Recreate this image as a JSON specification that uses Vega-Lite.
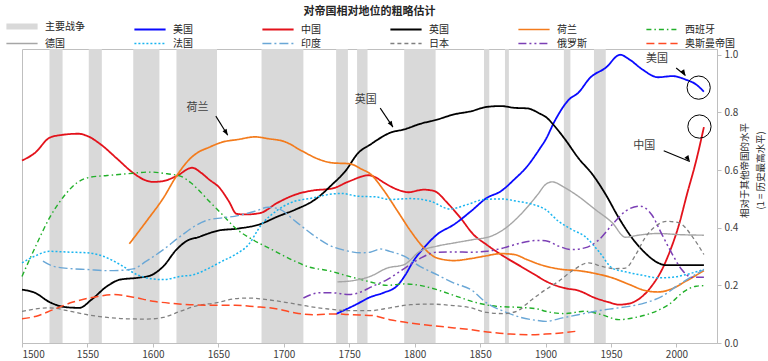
{
  "$schema": "https://vega.github.io/schema/vega-lite/v6.json",
  "width": 695,
  "height": 294,
  "autosize": {"type": "none"},
  "padding": {"left": 22, "top": 49, "right": 51, "bottom": 18},
  "background": "white",
  "title": {"text": "对帝国相对地位的粗略估计", "fontSize": 11, "font": "Noto Sans CJK SC", "fontWeight": "bold", "color": "#262626", "frame": "group", "anchor": "middle", "offset": 3.5},
  "config": {
    "view": {"stroke": "#bfbfbf", "strokeWidth": 1},
    "font": "Noto Sans CJK SC",
    "axis": {"grid": false, "domainColor": "#bfbfbf", "tickColor": "#bfbfbf", "labelColor": "#404040", "labelFontSize": 10, "labelFont": "Noto Sans CJK SC", "tickSize": 4}
  },
  "datasets": {
    "wars": [
      {"year": 1521, "year2": 1531}, {"year": 1551, "year2": 1561}, {"year": 1585, "year2": 1605},
      {"year": 1618, "year2": 1649}, {"year": 1683, "year2": 1715}, {"year": 1740, "year2": 1749},
      {"year": 1756, "year2": 1764}, {"year": 1792, "year2": 1816}, {"year": 1853, "year2": 1857},
      {"year": 1869, "year2": 1872}, {"year": 1914, "year2": 1919}, {"year": 1937, "year2": 1946}
    ],
    "notes": [
      {"label": "荷兰", "year": 1634, "value": 0.816, "ax": 1648.1, "ay": 0.787, "bx": 1657.2, "by": 0.721},
      {"label": "英国", "year": 1762.6, "value": 0.844, "ax": 1773.7, "ay": 0.815, "bx": 1783.4, "by": 0.749},
      {"label": "美国", "year": 1985.1, "value": 0.985, "ax": 1999.8, "ay": 0.954, "bx": 2006.9, "by": 0.928},
      {"label": "中国", "year": 1975.5, "value": 0.684, "ax": 1990.3, "ay": 0.667, "bx": 2010.2, "by": 0.63}
    ],
    "rings": [
      {"year": 2017, "value": 0.886},
      {"year": 2017.6, "value": 0.751}
    ],
    "series": [
      {"name": "中国", "year": 1500, "value": 0.633}, {"name": "中国", "year": 1510, "value": 0.66}, {"name": "中国", "year": 1521, "value": 0.712}, {"name": "中国", "year": 1529, "value": 0.721}, {"name": "中国", "year": 1543, "value": 0.726}, {"name": "中国", "year": 1550, "value": 0.718}, {"name": "中国", "year": 1561, "value": 0.686}, {"name": "中国", "year": 1572, "value": 0.642}, {"name": "中国", "year": 1585, "value": 0.59}, {"name": "中国", "year": 1593, "value": 0.567}, {"name": "中国", "year": 1600, "value": 0.559}, {"name": "中国", "year": 1607, "value": 0.561}, {"name": "中国", "year": 1618, "value": 0.579}, {"name": "中国", "year": 1630, "value": 0.608}, {"name": "中国", "year": 1637, "value": 0.59}, {"name": "中国", "year": 1643, "value": 0.567}, {"name": "中国", "year": 1651, "value": 0.538}, {"name": "中国", "year": 1658, "value": 0.492}, {"name": "中国", "year": 1664, "value": 0.448}, {"name": "中国", "year": 1671, "value": 0.446}, {"name": "中国", "year": 1682, "value": 0.451}, {"name": "中国", "year": 1695, "value": 0.486}, {"name": "中国", "year": 1709, "value": 0.515}, {"name": "中国", "year": 1722, "value": 0.529}, {"name": "中国", "year": 1737, "value": 0.536}, {"name": "中国", "year": 1750, "value": 0.561}, {"name": "中国", "year": 1765, "value": 0.582}, {"name": "中国", "year": 1770, "value": 0.575}, {"name": "中国", "year": 1776, "value": 0.558}, {"name": "中国", "year": 1787, "value": 0.532}, {"name": "中国", "year": 1795, "value": 0.523}, {"name": "中国", "year": 1807, "value": 0.532}, {"name": "中国", "year": 1815, "value": 0.527}, {"name": "中国", "year": 1825, "value": 0.486}, {"name": "中国", "year": 1835, "value": 0.434}, {"name": "中国", "year": 1845, "value": 0.376}, {"name": "中国", "year": 1855, "value": 0.341}, {"name": "中国", "year": 1868, "value": 0.301}, {"name": "中国", "year": 1881, "value": 0.266}, {"name": "中国", "year": 1894, "value": 0.231}, {"name": "中国", "year": 1900, "value": 0.215}, {"name": "中国", "year": 1914, "value": 0.191}, {"name": "中国", "year": 1925, "value": 0.182}, {"name": "中国", "year": 1938, "value": 0.156}, {"name": "中国", "year": 1948, "value": 0.142}, {"name": "中国", "year": 1956, "value": 0.133}, {"name": "中国", "year": 1964, "value": 0.137}, {"name": "中国", "year": 1974, "value": 0.162}, {"name": "中国", "year": 1981, "value": 0.197}, {"name": "中国", "year": 1989, "value": 0.255}, {"name": "中国", "year": 1995, "value": 0.318}, {"name": "中国", "year": 2002, "value": 0.411}, {"name": "中国", "year": 2008, "value": 0.515}, {"name": "中国", "year": 2015, "value": 0.631}, {"name": "中国", "year": 2021, "value": 0.749},
      {"name": "美国", "year": 1740, "value": 0.101}, {"name": "美国", "year": 1755, "value": 0.133}, {"name": "美国", "year": 1766, "value": 0.159}, {"name": "美国", "year": 1776, "value": 0.174}, {"name": "美国", "year": 1787, "value": 0.2}, {"name": "美国", "year": 1793, "value": 0.237}, {"name": "美国", "year": 1799, "value": 0.284}, {"name": "美国", "year": 1807, "value": 0.33}, {"name": "美国", "year": 1817, "value": 0.376}, {"name": "美国", "year": 1830, "value": 0.411}, {"name": "美国", "year": 1843, "value": 0.457}, {"name": "美国", "year": 1855, "value": 0.503}, {"name": "美国", "year": 1866, "value": 0.527}, {"name": "美国", "year": 1876, "value": 0.567}, {"name": "美国", "year": 1886, "value": 0.613}, {"name": "美国", "year": 1896, "value": 0.677}, {"name": "美国", "year": 1900, "value": 0.705}, {"name": "美国", "year": 1907, "value": 0.77}, {"name": "美国", "year": 1918, "value": 0.845}, {"name": "美国", "year": 1925, "value": 0.868}, {"name": "美国", "year": 1934, "value": 0.92}, {"name": "美国", "year": 1946, "value": 0.955}, {"name": "美国", "year": 1957, "value": 1.0}, {"name": "美国", "year": 1964, "value": 0.984}, {"name": "美国", "year": 1974, "value": 0.949}, {"name": "美国", "year": 1986, "value": 0.922}, {"name": "美国", "year": 1997, "value": 0.926}, {"name": "美国", "year": 2007, "value": 0.914}, {"name": "美国", "year": 2015, "value": 0.897}, {"name": "美国", "year": 2021, "value": 0.872},
      {"name": "英国", "year": 1500, "value": 0.185}, {"name": "英国", "year": 1510, "value": 0.174}, {"name": "英国", "year": 1521, "value": 0.142}, {"name": "英国", "year": 1534, "value": 0.124}, {"name": "英国", "year": 1544, "value": 0.122}, {"name": "英国", "year": 1553, "value": 0.15}, {"name": "英国", "year": 1565, "value": 0.197}, {"name": "英国", "year": 1575, "value": 0.22}, {"name": "英国", "year": 1588, "value": 0.226}, {"name": "英国", "year": 1598, "value": 0.234}, {"name": "英国", "year": 1608, "value": 0.266}, {"name": "英国", "year": 1618, "value": 0.324}, {"name": "英国", "year": 1628, "value": 0.359}, {"name": "英国", "year": 1634, "value": 0.366}, {"name": "英国", "year": 1640, "value": 0.376}, {"name": "英国", "year": 1650, "value": 0.39}, {"name": "英国", "year": 1665, "value": 0.397}, {"name": "英国", "year": 1681, "value": 0.411}, {"name": "英国", "year": 1696, "value": 0.44}, {"name": "英国", "year": 1709, "value": 0.463}, {"name": "英国", "year": 1724, "value": 0.498}, {"name": "英国", "year": 1737, "value": 0.55}, {"name": "英国", "year": 1747, "value": 0.596}, {"name": "英国", "year": 1757, "value": 0.66}, {"name": "英国", "year": 1766, "value": 0.688}, {"name": "英国", "year": 1774, "value": 0.712}, {"name": "英国", "year": 1781, "value": 0.729}, {"name": "英国", "year": 1792, "value": 0.741}, {"name": "英国", "year": 1804, "value": 0.76}, {"name": "英国", "year": 1817, "value": 0.775}, {"name": "英国", "year": 1830, "value": 0.793}, {"name": "英国", "year": 1843, "value": 0.804}, {"name": "英国", "year": 1855, "value": 0.819}, {"name": "英国", "year": 1866, "value": 0.822}, {"name": "英国", "year": 1876, "value": 0.816}, {"name": "英国", "year": 1886, "value": 0.814}, {"name": "英国", "year": 1896, "value": 0.795}, {"name": "英国", "year": 1900, "value": 0.785}, {"name": "英国", "year": 1907, "value": 0.752}, {"name": "英国", "year": 1915, "value": 0.706}, {"name": "英国", "year": 1925, "value": 0.642}, {"name": "英国", "year": 1936, "value": 0.584}, {"name": "英国", "year": 1946, "value": 0.515}, {"name": "英国", "year": 1956, "value": 0.434}, {"name": "英国", "year": 1966, "value": 0.365}, {"name": "英国", "year": 1976, "value": 0.313}, {"name": "英国", "year": 1986, "value": 0.278}, {"name": "英国", "year": 1992, "value": 0.27}, {"name": "英国", "year": 2005, "value": 0.27}, {"name": "英国", "year": 2021, "value": 0.27},
      {"name": "荷兰", "year": 1582, "value": 0.344}, {"name": "荷兰", "year": 1596, "value": 0.428}, {"name": "荷兰", "year": 1608, "value": 0.503}, {"name": "荷兰", "year": 1618, "value": 0.579}, {"name": "荷兰", "year": 1629, "value": 0.642}, {"name": "荷兰", "year": 1634, "value": 0.66}, {"name": "荷兰", "year": 1643, "value": 0.679}, {"name": "荷兰", "year": 1653, "value": 0.697}, {"name": "荷兰", "year": 1665, "value": 0.706}, {"name": "荷兰", "year": 1678, "value": 0.715}, {"name": "荷兰", "year": 1688, "value": 0.709}, {"name": "荷兰", "year": 1701, "value": 0.698}, {"name": "荷兰", "year": 1714, "value": 0.666}, {"name": "荷兰", "year": 1727, "value": 0.637}, {"name": "荷兰", "year": 1737, "value": 0.625}, {"name": "荷兰", "year": 1750, "value": 0.622}, {"name": "荷兰", "year": 1760, "value": 0.602}, {"name": "荷兰", "year": 1766, "value": 0.587}, {"name": "荷兰", "year": 1776, "value": 0.532}, {"name": "荷兰", "year": 1787, "value": 0.457}, {"name": "荷兰", "year": 1797, "value": 0.388}, {"name": "荷兰", "year": 1807, "value": 0.33}, {"name": "荷兰", "year": 1817, "value": 0.295}, {"name": "荷兰", "year": 1830, "value": 0.286}, {"name": "荷兰", "year": 1843, "value": 0.293}, {"name": "荷兰", "year": 1853, "value": 0.301}, {"name": "荷兰", "year": 1866, "value": 0.31}, {"name": "荷兰", "year": 1876, "value": 0.307}, {"name": "荷兰", "year": 1886, "value": 0.289}, {"name": "荷兰", "year": 1896, "value": 0.272}, {"name": "荷兰", "year": 1913, "value": 0.255}, {"name": "荷兰", "year": 1925, "value": 0.251}, {"name": "荷兰", "year": 1938, "value": 0.241}, {"name": "荷兰", "year": 1951, "value": 0.226}, {"name": "荷兰", "year": 1964, "value": 0.203}, {"name": "荷兰", "year": 1976, "value": 0.182}, {"name": "荷兰", "year": 1986, "value": 0.177}, {"name": "荷兰", "year": 1997, "value": 0.189}, {"name": "荷兰", "year": 2007, "value": 0.214}, {"name": "荷兰", "year": 2021, "value": 0.251},
      {"name": "西班牙", "year": 1500, "value": 0.231}, {"name": "西班牙", "year": 1511, "value": 0.341}, {"name": "西班牙", "year": 1521, "value": 0.434}, {"name": "西班牙", "year": 1532, "value": 0.509}, {"name": "西班牙", "year": 1542, "value": 0.556}, {"name": "西班牙", "year": 1552, "value": 0.575}, {"name": "西班牙", "year": 1565, "value": 0.581}, {"name": "西班牙", "year": 1580, "value": 0.587}, {"name": "西班牙", "year": 1598, "value": 0.593}, {"name": "西班牙", "year": 1611, "value": 0.587}, {"name": "西班牙", "year": 1621, "value": 0.579}, {"name": "西班牙", "year": 1629, "value": 0.556}, {"name": "西班牙", "year": 1634, "value": 0.535}, {"name": "西班牙", "year": 1643, "value": 0.492}, {"name": "西班牙", "year": 1653, "value": 0.446}, {"name": "西班牙", "year": 1663, "value": 0.399}, {"name": "西班牙", "year": 1676, "value": 0.359}, {"name": "西班牙", "year": 1691, "value": 0.324}, {"name": "西班牙", "year": 1706, "value": 0.289}, {"name": "西班牙", "year": 1719, "value": 0.264}, {"name": "西班牙", "year": 1734, "value": 0.251}, {"name": "西班牙", "year": 1750, "value": 0.231}, {"name": "西班牙", "year": 1766, "value": 0.212}, {"name": "西班牙", "year": 1779, "value": 0.2}, {"name": "西班牙", "year": 1792, "value": 0.205}, {"name": "西班牙", "year": 1804, "value": 0.2}, {"name": "西班牙", "year": 1817, "value": 0.185}, {"name": "西班牙", "year": 1832, "value": 0.162}, {"name": "西班牙", "year": 1848, "value": 0.139}, {"name": "西班牙", "year": 1863, "value": 0.127}, {"name": "西班牙", "year": 1878, "value": 0.124}, {"name": "西班牙", "year": 1894, "value": 0.118}, {"name": "西班牙", "year": 1900, "value": 0.11}, {"name": "西班牙", "year": 1915, "value": 0.102}, {"name": "西班牙", "year": 1930, "value": 0.11}, {"name": "西班牙", "year": 1943, "value": 0.098}, {"name": "西班牙", "year": 1956, "value": 0.081}, {"name": "西班牙", "year": 1969, "value": 0.089}, {"name": "西班牙", "year": 1981, "value": 0.104}, {"name": "西班牙", "year": 1994, "value": 0.133}, {"name": "西班牙", "year": 2007, "value": 0.182}, {"name": "西班牙", "year": 2015, "value": 0.197}, {"name": "西班牙", "year": 2021, "value": 0.199},
      {"name": "德国", "year": 1741, "value": 0.212}, {"name": "德国", "year": 1755, "value": 0.218}, {"name": "德国", "year": 1766, "value": 0.231}, {"name": "德国", "year": 1779, "value": 0.26}, {"name": "德国", "year": 1792, "value": 0.272}, {"name": "德国", "year": 1804, "value": 0.318}, {"name": "德国", "year": 1817, "value": 0.336}, {"name": "德国", "year": 1830, "value": 0.347}, {"name": "德国", "year": 1845, "value": 0.359}, {"name": "德国", "year": 1858, "value": 0.37}, {"name": "德国", "year": 1868, "value": 0.394}, {"name": "德国", "year": 1881, "value": 0.446}, {"name": "德国", "year": 1894, "value": 0.515}, {"name": "德国", "year": 1900, "value": 0.55}, {"name": "德国", "year": 1905, "value": 0.559}, {"name": "德国", "year": 1915, "value": 0.538}, {"name": "德国", "year": 1925, "value": 0.509}, {"name": "德国", "year": 1938, "value": 0.463}, {"name": "德国", "year": 1951, "value": 0.417}, {"name": "德国", "year": 1961, "value": 0.367}, {"name": "德国", "year": 1971, "value": 0.374}, {"name": "德国", "year": 1986, "value": 0.38}, {"name": "德国", "year": 2002, "value": 0.376}, {"name": "德国", "year": 2021, "value": 0.374},
      {"name": "法国", "year": 1500, "value": 0.278}, {"name": "法国", "year": 1511, "value": 0.304}, {"name": "法国", "year": 1521, "value": 0.318}, {"name": "法国", "year": 1537, "value": 0.315}, {"name": "法国", "year": 1550, "value": 0.313}, {"name": "法国", "year": 1562, "value": 0.301}, {"name": "法国", "year": 1575, "value": 0.272}, {"name": "法国", "year": 1588, "value": 0.237}, {"name": "法国", "year": 1600, "value": 0.222}, {"name": "法国", "year": 1608, "value": 0.22}, {"name": "法国", "year": 1621, "value": 0.231}, {"name": "法国", "year": 1631, "value": 0.237}, {"name": "法国", "year": 1643, "value": 0.26}, {"name": "法国", "year": 1653, "value": 0.284}, {"name": "法国", "year": 1663, "value": 0.307}, {"name": "法国", "year": 1673, "value": 0.341}, {"name": "法国", "year": 1683, "value": 0.411}, {"name": "法国", "year": 1694, "value": 0.457}, {"name": "法国", "year": 1706, "value": 0.488}, {"name": "法国", "year": 1722, "value": 0.503}, {"name": "法国", "year": 1734, "value": 0.515}, {"name": "法国", "year": 1744, "value": 0.519}, {"name": "法国", "year": 1757, "value": 0.509}, {"name": "法国", "year": 1770, "value": 0.507}, {"name": "法国", "year": 1781, "value": 0.498}, {"name": "法国", "year": 1797, "value": 0.501}, {"name": "法国", "year": 1812, "value": 0.492}, {"name": "法国", "year": 1827, "value": 0.465}, {"name": "法国", "year": 1840, "value": 0.48}, {"name": "法国", "year": 1853, "value": 0.498}, {"name": "法国", "year": 1866, "value": 0.5}, {"name": "法国", "year": 1878, "value": 0.492}, {"name": "法国", "year": 1891, "value": 0.48}, {"name": "法国", "year": 1900, "value": 0.463}, {"name": "法国", "year": 1910, "value": 0.422}, {"name": "法国", "year": 1920, "value": 0.394}, {"name": "法国", "year": 1930, "value": 0.37}, {"name": "法国", "year": 1941, "value": 0.316}, {"name": "法国", "year": 1951, "value": 0.26}, {"name": "法国", "year": 1961, "value": 0.247}, {"name": "法国", "year": 1974, "value": 0.235}, {"name": "法国", "year": 1986, "value": 0.226}, {"name": "法国", "year": 1997, "value": 0.228}, {"name": "法国", "year": 2007, "value": 0.237}, {"name": "法国", "year": 2021, "value": 0.255},
      {"name": "印度", "year": 1516, "value": 0.284}, {"name": "印度", "year": 1524, "value": 0.266}, {"name": "印度", "year": 1537, "value": 0.258}, {"name": "印度", "year": 1550, "value": 0.255}, {"name": "印度", "year": 1565, "value": 0.251}, {"name": "印度", "year": 1575, "value": 0.252}, {"name": "印度", "year": 1585, "value": 0.257}, {"name": "印度", "year": 1595, "value": 0.284}, {"name": "印度", "year": 1608, "value": 0.324}, {"name": "印度", "year": 1621, "value": 0.37}, {"name": "印度", "year": 1634, "value": 0.411}, {"name": "印度", "year": 1643, "value": 0.428}, {"name": "印度", "year": 1653, "value": 0.434}, {"name": "印度", "year": 1665, "value": 0.442}, {"name": "印度", "year": 1678, "value": 0.457}, {"name": "印度", "year": 1688, "value": 0.471}, {"name": "印度", "year": 1696, "value": 0.466}, {"name": "印度", "year": 1709, "value": 0.422}, {"name": "印度", "year": 1722, "value": 0.376}, {"name": "印度", "year": 1734, "value": 0.341}, {"name": "印度", "year": 1747, "value": 0.321}, {"name": "印度", "year": 1760, "value": 0.313}, {"name": "印度", "year": 1766, "value": 0.315}, {"name": "印度", "year": 1774, "value": 0.326}, {"name": "印度", "year": 1781, "value": 0.318}, {"name": "印度", "year": 1792, "value": 0.301}, {"name": "印度", "year": 1804, "value": 0.266}, {"name": "印度", "year": 1817, "value": 0.237}, {"name": "印度", "year": 1830, "value": 0.208}, {"name": "印度", "year": 1843, "value": 0.185}, {"name": "印度", "year": 1855, "value": 0.139}, {"name": "印度", "year": 1868, "value": 0.11}, {"name": "印度", "year": 1881, "value": 0.089}, {"name": "印度", "year": 1894, "value": 0.078}, {"name": "印度", "year": 1900, "value": 0.075}, {"name": "印度", "year": 1913, "value": 0.087}, {"name": "印度", "year": 1925, "value": 0.098}, {"name": "印度", "year": 1938, "value": 0.11}, {"name": "印度", "year": 1951, "value": 0.119}, {"name": "印度", "year": 1964, "value": 0.127}, {"name": "印度", "year": 1976, "value": 0.139}, {"name": "印度", "year": 1989, "value": 0.162}, {"name": "印度", "year": 2002, "value": 0.203}, {"name": "印度", "year": 2012, "value": 0.231}, {"name": "印度", "year": 2021, "value": 0.255},
      {"name": "日本", "year": 1500, "value": 0.11}, {"name": "日本", "year": 1521, "value": 0.122}, {"name": "日本", "year": 1537, "value": 0.11}, {"name": "日本", "year": 1550, "value": 0.098}, {"name": "日本", "year": 1565, "value": 0.089}, {"name": "日本", "year": 1580, "value": 0.084}, {"name": "日本", "year": 1595, "value": 0.083}, {"name": "日本", "year": 1608, "value": 0.089}, {"name": "日本", "year": 1621, "value": 0.11}, {"name": "日本", "year": 1634, "value": 0.13}, {"name": "日本", "year": 1648, "value": 0.139}, {"name": "日本", "year": 1663, "value": 0.154}, {"name": "日本", "year": 1673, "value": 0.156}, {"name": "日本", "year": 1688, "value": 0.15}, {"name": "日本", "year": 1704, "value": 0.139}, {"name": "日本", "year": 1719, "value": 0.127}, {"name": "日本", "year": 1734, "value": 0.118}, {"name": "日本", "year": 1750, "value": 0.112}, {"name": "日本", "year": 1766, "value": 0.112}, {"name": "日本", "year": 1781, "value": 0.122}, {"name": "日本", "year": 1797, "value": 0.133}, {"name": "日本", "year": 1812, "value": 0.135}, {"name": "日本", "year": 1827, "value": 0.131}, {"name": "日本", "year": 1843, "value": 0.122}, {"name": "日本", "year": 1855, "value": 0.106}, {"name": "日本", "year": 1868, "value": 0.102}, {"name": "日本", "year": 1878, "value": 0.11}, {"name": "日本", "year": 1888, "value": 0.145}, {"name": "日本", "year": 1900, "value": 0.185}, {"name": "日本", "year": 1910, "value": 0.214}, {"name": "日本", "year": 1920, "value": 0.249}, {"name": "日本", "year": 1933, "value": 0.278}, {"name": "日本", "year": 1943, "value": 0.266}, {"name": "日本", "year": 1953, "value": 0.258}, {"name": "日本", "year": 1961, "value": 0.26}, {"name": "日本", "year": 1969, "value": 0.307}, {"name": "日本", "year": 1976, "value": 0.365}, {"name": "日本", "year": 1984, "value": 0.405}, {"name": "日本", "year": 1993, "value": 0.422}, {"name": "日本", "year": 2002, "value": 0.417}, {"name": "日本", "year": 2012, "value": 0.37}, {"name": "日本", "year": 2021, "value": 0.307},
      {"name": "俄罗斯", "year": 1715, "value": 0.156}, {"name": "俄罗斯", "year": 1727, "value": 0.174}, {"name": "俄罗斯", "year": 1737, "value": 0.174}, {"name": "俄罗斯", "year": 1750, "value": 0.168}, {"name": "俄罗斯", "year": 1760, "value": 0.179}, {"name": "俄罗斯", "year": 1766, "value": 0.193}, {"name": "俄罗斯", "year": 1779, "value": 0.22}, {"name": "俄罗斯", "year": 1792, "value": 0.258}, {"name": "俄罗斯", "year": 1804, "value": 0.293}, {"name": "俄罗斯", "year": 1817, "value": 0.315}, {"name": "俄罗斯", "year": 1830, "value": 0.316}, {"name": "俄罗斯", "year": 1843, "value": 0.315}, {"name": "俄罗斯", "year": 1855, "value": 0.318}, {"name": "俄罗斯", "year": 1868, "value": 0.33}, {"name": "俄罗斯", "year": 1881, "value": 0.347}, {"name": "俄罗斯", "year": 1894, "value": 0.356}, {"name": "俄罗斯", "year": 1900, "value": 0.355}, {"name": "俄罗斯", "year": 1910, "value": 0.336}, {"name": "俄罗斯", "year": 1920, "value": 0.324}, {"name": "俄罗斯", "year": 1930, "value": 0.33}, {"name": "俄罗斯", "year": 1941, "value": 0.359}, {"name": "俄罗斯", "year": 1951, "value": 0.411}, {"name": "俄罗斯", "year": 1961, "value": 0.457}, {"name": "俄罗斯", "year": 1972, "value": 0.475}, {"name": "俄罗斯", "year": 1981, "value": 0.446}, {"name": "俄罗斯", "year": 1989, "value": 0.376}, {"name": "俄罗斯", "year": 1997, "value": 0.307}, {"name": "俄罗斯", "year": 2004, "value": 0.255}, {"name": "俄罗斯", "year": 2012, "value": 0.228}, {"name": "俄罗斯", "year": 2021, "value": 0.228},
      {"name": "奥斯曼帝国", "year": 1500, "value": 0.084}, {"name": "奥斯曼帝国", "year": 1511, "value": 0.093}, {"name": "奥斯曼帝国", "year": 1524, "value": 0.116}, {"name": "奥斯曼帝国", "year": 1539, "value": 0.142}, {"name": "奥斯曼帝国", "year": 1555, "value": 0.159}, {"name": "奥斯曼帝国", "year": 1570, "value": 0.168}, {"name": "奥斯曼帝国", "year": 1585, "value": 0.159}, {"name": "奥斯曼帝国", "year": 1600, "value": 0.145}, {"name": "奥斯曼帝国", "year": 1616, "value": 0.137}, {"name": "奥斯曼帝国", "year": 1634, "value": 0.132}, {"name": "奥斯曼帝国", "year": 1648, "value": 0.131}, {"name": "奥斯曼帝国", "year": 1663, "value": 0.131}, {"name": "奥斯曼帝国", "year": 1678, "value": 0.126}, {"name": "奥斯曼帝国", "year": 1694, "value": 0.119}, {"name": "奥斯曼帝国", "year": 1709, "value": 0.104}, {"name": "奥斯曼帝国", "year": 1724, "value": 0.098}, {"name": "奥斯曼帝国", "year": 1739, "value": 0.101}, {"name": "奥斯曼帝国", "year": 1752, "value": 0.098}, {"name": "奥斯曼帝国", "year": 1768, "value": 0.095}, {"name": "奥斯曼帝国", "year": 1781, "value": 0.081}, {"name": "奥斯曼帝国", "year": 1797, "value": 0.069}, {"name": "奥斯曼帝国", "year": 1812, "value": 0.061}, {"name": "奥斯曼帝国", "year": 1827, "value": 0.054}, {"name": "奥斯曼帝国", "year": 1843, "value": 0.046}, {"name": "奥斯曼帝国", "year": 1858, "value": 0.037}, {"name": "奥斯曼帝国", "year": 1873, "value": 0.031}, {"name": "奥斯曼帝国", "year": 1888, "value": 0.029}, {"name": "奥斯曼帝国", "year": 1900, "value": 0.031}, {"name": "奥斯曼帝国", "year": 1912, "value": 0.035}, {"name": "奥斯曼帝国", "year": 1924, "value": 0.041}
    ]
  },
  "encoding": {
    "x": {"field": "year", "type": "quantitative", "title": null, "scale": {"domain": [1500, 2031], "nice": false, "zero": false}, "axis": {"values": [1500, 1550, 1600, 1650, 1700, 1750, 1800, 1850, 1900, 1950, 2000], "format": "d", "labelPadding": 2, "title": null}}
  },
  "layer": [
    {
      "data": {"name": "wars"},
      "mark": {"type": "rect", "color": "#d9d9d9"},
      "encoding": {"x2": {"field": "year2"}}
    },
    {
      "data": {"name": "series"},
      "mark": {"type": "line", "interpolate": "monotone"},
      "encoding": {
        "y": {"field": "value", "type": "quantitative", "scale": {"domain": [0, 1.02], "nice": false}, "axis": {"orient": "right", "values": [0, 0.2, 0.4, 0.6, 0.8, 1.0], "format": ".1f", "labelPadding": 3, "title": ["相对于其他帝国的水平", "(1 = 历史最高水平)"], "titleAngle": 270, "titleFontSize": 9.5, "titleFontWeight": "normal", "titleColor": "#262626", "titleFont": "Noto Sans CJK SC", "titleY": 121, "titlePadding": -4, "titleLineHeight": 16}},
        "color": {
          "field": "name", "type": "nominal", "title": null,
          "scale": {
            "domain": ["主要战争", "美国", "中国", "英国", "荷兰", "西班牙", "德国", "法国", "印度", "日本", "俄罗斯", "奥斯曼帝国"],
            "range": ["#d9d9d9", "#0a0aff", "#e3121b", "#000000", "#f37b1c", "#22b02a", "#a6a6a6", "#19b5f0", "#6aa7d6", "#808080", "#7b3fb5", "#ff4a24"]
          },
          "legend": {"orient": "none", "legendX": -6, "legendY": -28.5, "direction": "horizontal", "columns": 6, "title": null, "symbolType": "M-5.2,0H5.2", "symbolSize": 36, "labelFontSize": 10, "labelFont": "Noto Sans CJK SC", "labelColor": "#262626", "labelOffset": 17, "columnPadding": 35, "rowPadding": 0, "gridAlign": "all", "labelLimit": 200}
        },
        "strokeDash": {
          "field": "name", "type": "nominal", "title": null,
          "scale": {
            "domain": ["主要战争", "美国", "中国", "英国", "荷兰", "西班牙", "德国", "法国", "印度", "日本", "俄罗斯", "奥斯曼帝国"],
            "range": [[1, 0], [1, 0], [1, 0], [1, 0], [1, 0], [5, 3, 1.5, 3], [1, 0], [2, 2], [9, 3, 2, 3], [4, 3], [8, 3, 2, 3, 2, 3], [8, 4]]
          },
          "legend": {"orient": "none", "legendX": -6, "legendY": -28.5, "direction": "horizontal", "columns": 6, "title": null, "symbolType": "M-5.2,0H5.2", "symbolSize": 36, "labelFontSize": 10, "labelFont": "Noto Sans CJK SC", "labelColor": "#262626", "labelOffset": 17, "columnPadding": 35, "rowPadding": 0, "gridAlign": "all", "labelLimit": 200}
        },
        "strokeWidth": {
          "field": "name", "type": "nominal", "title": null,
          "scale": {
            "type": "ordinal",
            "domain": ["主要战争", "美国", "中国", "英国", "荷兰", "西班牙", "德国", "法国", "印度", "日本", "俄罗斯", "奥斯曼帝国"],
            "range": [6, 1.8, 1.8, 1.8, 1.7, 1.4, 1.4, 1.5, 1.4, 1.3, 1.5, 1.5]
          },
          "legend": {"orient": "none", "legendX": -6, "legendY": -28.5, "direction": "horizontal", "columns": 6, "title": null, "symbolType": "M-5.2,0H5.2", "symbolSize": 36, "labelFontSize": 10, "labelFont": "Noto Sans CJK SC", "labelColor": "#262626", "labelOffset": 17, "columnPadding": 35, "rowPadding": 0, "gridAlign": "all", "labelLimit": 200}
        }
      }
    },
    {
      "data": {"name": "notes"},
      "mark": {"type": "text", "fontSize": 11, "font": "Noto Sans CJK SC", "color": "#404040"},
      "encoding": {"y": {"field": "value", "type": "quantitative"}, "text": {"field": "label"}}
    },
    {
      "data": {"name": "notes"},
      "mark": {"type": "rule", "color": "#000000", "strokeWidth": 1.1},
      "encoding": {"x": {"field": "ax", "type": "quantitative"}, "y": {"field": "ay", "type": "quantitative"}, "x2": {"field": "bx"}, "y2": {"field": "by"}}
    },
    {
      "data": {"name": "notes"},
      "mark": {"type": "point", "shape": "M0,0L-0.8,2L0.8,2Z", "size": 36, "filled": true, "color": "#000000", "opacity": 1},
      "encoding": {
        "x": {"field": "bx", "type": "quantitative"},
        "y": {"field": "by", "type": "quantitative"},
        "angle": {"field": "label", "type": "nominal", "legend": null, "scale": {"domain": ["荷兰", "英国", "美国", "中国"], "range": [148, 146, 128, 112]}}
      }
    },
    {
      "data": {"name": "rings"},
      "mark": {"type": "point", "shape": "circle", "size": 540, "filled": false, "color": "#000000", "strokeWidth": 1, "opacity": 1},
      "encoding": {"y": {"field": "value", "type": "quantitative"}}
    }
  ]
}
